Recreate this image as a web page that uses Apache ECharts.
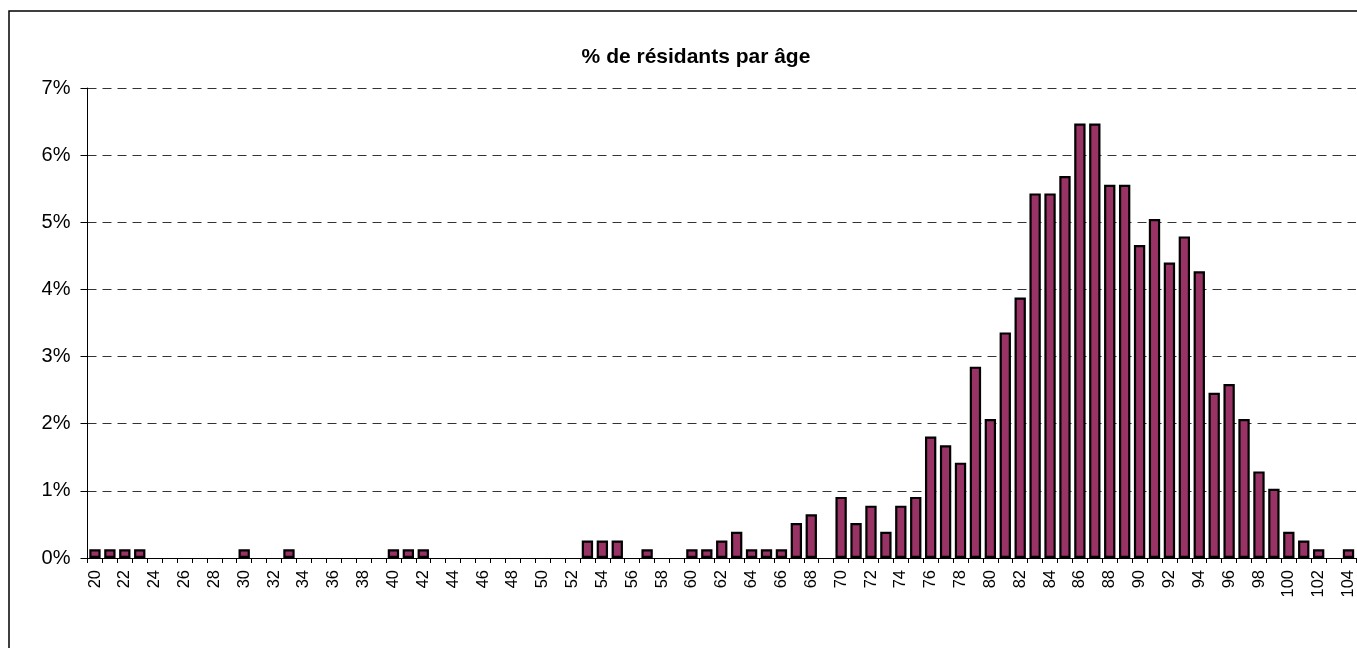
<!DOCTYPE html>
<html>
<head>
<meta charset="utf-8">
<script src="https://cdn.jsdelivr.net/npm/echarts@6/dist/echarts.min.js"></script>
<style>
html,body{margin:0;padding:0;background:#fff;}
#chart{width:1357px;height:648px;}
</style>
</head>
<body>
<div id="chart"></div>
<script>
const titleText = "% de résidants par âge";
const ages = ["20","21","22","23","24","25","26","27","28","29",
  "30","31","32","33","34","35","36","37","38","39",
  "40","41","42","43","44","45","46","47","48","49",
  "50","51","52","53","54","55","56","57","58","59",
  "60","61","62","63","64","65","66","67","68","69",
  "70","71","72","73","74","75","76","77","78","79",
  "80","81","82","83","84","85","86","87","88","89",
  "90","91","92","93","94","95","96","97","98","99",
  "100","101","102","103","104"];
const pctResidents = [0.13,0.13,0.13,0.13,0,0,0,0,0,0,
  0.13,0,0,0.13,0,0,0,0,0,0,
  0.13,0.13,0.13,0,0,0,0,0,0,0,
  0,0,0,0.26,0.26,0.26,0,0.13,0,0,
  0.13,0.13,0.26,0.39,0.13,0.13,0.13,0.52,0.65,0,
  0.91,0.52,0.78,0.39,0.78,0.91,1.81,1.68,1.42,2.85,
  2.07,3.36,3.88,5.43,5.43,5.69,6.47,6.47,5.56,5.56,
  4.66,5.05,4.40,4.79,4.27,2.46,2.59,2.07,1.29,1.03,
  0.39,0.26,0.13,0,0.13];

const FONT = "'Liberation Sans', Arial, sans-serif";
const chart = echarts.init(document.getElementById('chart'), null, {renderer:'canvas'});
chart.setOption({
  animation: false,
  backgroundColor: '#ffffff',
  title: {
    text: titleText,
    left: 691, top: 42, textAlign: 'center',
    textStyle: {fontFamily: FONT, fontSize: 21, fontWeight: 'bold', color: '#000'}
  },
  graphic: [{
    type: 'rect', silent: true, z: 100,
    shape: {x: 9, y: 11, width: 1400, height: 700},
    style: {fill: 'none', stroke: '#000', lineWidth: 1.5}
  }],
  grid: {left: 87.5, right: 0, top: 88, bottom: 90, containLabel: false},
  xAxis: {
    type: 'category',
    data: ages,
    boundaryGap: true,
    axisLine: {show: true, lineStyle: {color: '#000', width: 1}},
    axisTick: {show: true, interval: 0, alignWithLabel: false, length: 5, lineStyle: {color: '#000'}},
    axisLabel: {interval: 1, rotate: 90, margin: 12, fontFamily: FONT, fontSize: 16.5, color: '#000'},
    splitLine: {show: false}
  },
  yAxis: {
    type: 'value',
    min: 0, max: 7, interval: 1,
    axisLine: {show: true, lineStyle: {color: '#000', width: 1}},
    axisTick: {show: true, length: 7, lineStyle: {color: '#000'}},
    axisLabel: {formatter: '{value}%', margin: 17, fontFamily: FONT, fontSize: 20, color: '#000'},
    splitLine: {show: true, lineStyle: {color: '#333', type: [9, 6], width: 1}}
  },
  series: [{
    type: 'bar',
    data: pctResidents.map(v => v === 0 ? '-' : v),
    barCategoryGap: '24%',
    itemStyle: {color: '#993366', borderColor: '#000', borderWidth: 2.2}
  }]
});
</script>
</body>
</html>
